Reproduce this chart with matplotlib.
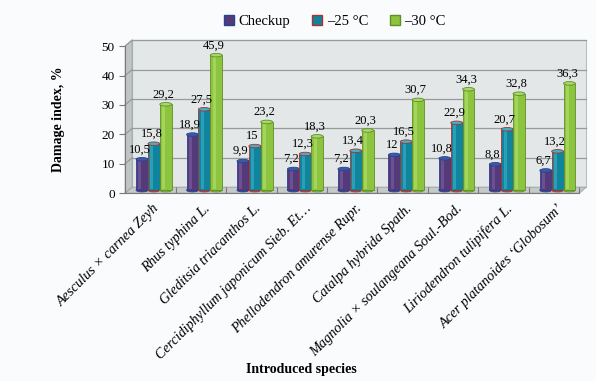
import numpy as np
import matplotlib.pyplot as plt
import matplotlib.transforms as mtransforms
from matplotlib.patches import Polygon, Ellipse, Rectangle

plt.rcParams['font.family'] = ['Liberation Serif', 'DejaVu Serif']

species = ["Aesculus × carnea Zeyh", "Rhus typhina L.", "Gleditsia triacanthos L.",
           "Cercidiphyllum japonicum Sieb. Et…", "Phellodendron amurense Rupr.",
           "Catalpa hybrida Spath.", "Magnolia × soulangeana Soul.-Bod.",
           "Liriodendron tulipifera L.", "Acer platanoides ‘Globosum’"]
checkup = [10.5, 18.9, 9.9, 7.2, 7.2, 12, 10.8, 8.8, 6.7]
minus25 = [15.8, 27.5, 15, 12.3, 13.4, 16.5, 22.9, 20.7, 13.2]
minus30 = [29.2, 45.9, 23.2, 18.3, 20.3, 30.7, 34.3, 32.8, 36.3]
series_names = ["Checkup", "–25 °C", "–30 °C"]

faces = ["#553a7a", "#10849c", "#8cc43f"]
edges = ["#27428f", "#b0302a", "#5f8f26"]
lights = ["#7b62a3", "#3fb0c6", "#b4e070"]
caps = ["#3a5aa8", "#3fb0c6", "#a8d86a"]

fig = plt.figure(figsize=(5.96, 3.81), dpi=100)
fig.patch.set_facecolor("#f9fbfd")
ax = fig.add_axes([0.21, 0.493, 0.762, 0.386])
ax.set_xlim(-0.5, len(species) - 0.5)
ax.set_ylim(0, 50)
ax.patch.set_alpha(0)

dx, dy = 7, 6
back = mtransforms.offset_copy(ax.transData, fig=fig, x=dx, y=dy, units='dots')
n = len(species)
x0, x1 = -0.5, n - 0.5

# back wall
ax.add_patch(Polygon([(x0, 0), (x1, 0), (x1, 50), (x0, 50)], closed=True,
                     transform=back, facecolor="#e3e7e7", edgecolor="#b9bfbf",
                     lw=0.8, zorder=0, clip_on=False))
# side wall
side = [ax.transData.transform((x0, 0)), back.transform((x0, 0)),
        back.transform((x0, 50)), ax.transData.transform((x0, 50))]
ax.add_patch(Polygon(side, closed=True, transform=None, facecolor="#bfc4c4",
                     edgecolor="#9aa0a0", lw=0.6, zorder=0, clip_on=False))
# floor
floor = [ax.transData.transform((x0, 0)), ax.transData.transform((x1, 0)),
         back.transform((x1, 0)), back.transform((x0, 0))]
ax.add_patch(Polygon(floor, closed=True, transform=None, facecolor="#c6caca",
                     edgecolor="#9aa0a0", lw=0.6, zorder=0, clip_on=False))
# gridlines on back wall and side
for v in range(10, 60, 10):
    ax.plot([x0, x1], [v, v], transform=back, color="#959a9a", lw=0.9,
            zorder=0.5, clip_on=False)
    p1 = ax.transData.transform((x0, v))
    p2 = back.transform((x0, v))
    ax.plot([p1[0], p2[0]], [p1[1], p2[1]], transform=None, color="#959a9a",
            lw=0.9, zorder=0.5, clip_on=False)

xs = np.arange(n)
w = 0.235
offs = [-0.235, 0.0, 0.235]
shift = mtransforms.offset_copy(ax.transData, fig=fig, x=dx / 2, y=dy / 2, units='dots')
for k, vals in enumerate([checkup, minus25, minus30]):
    for i, v in enumerate(vals):
        cx = xs[i] + offs[k]
        ax.add_patch(Rectangle((cx - w / 2, 0), w, v, transform=shift,
                               facecolor=faces[k], edgecolor=edges[k], lw=0.6,
                               zorder=2 + k, clip_on=False))
        ax.add_patch(Rectangle((cx - w / 2 + w * 0.2, 0.3), w * 0.25, v - 0.6,
                               transform=shift, facecolor=lights[k], lw=0,
                               alpha=0.6, zorder=2 + k, clip_on=False))
        ax.add_patch(Ellipse((cx, 0), w, 1.2, transform=shift,
                             facecolor=faces[k], edgecolor=edges[k], lw=0.6,
                             zorder=1.9 + k, clip_on=False))
        ax.add_patch(Ellipse((cx, v), w, 1.2, transform=shift,
                             facecolor=caps[k], edgecolor=edges[k], lw=0.6,
                             zorder=2.1 + k, clip_on=False))
        ax.text(cx - 0.05, v + 1.3, f"{v:g}".replace(".", ","), transform=shift,
                ha="center", va="bottom", fontsize=9, zorder=10)

for s in ["top", "right"]:
    ax.spines[s].set_visible(False)
ax.spines["left"].set_color("#7a7a7a")
ax.spines["bottom"].set_color("#7a7a7a")
ax.set_yticks(range(0, 60, 10))
ax.set_xticks(np.arange(-0.5, n, 1))
ax.set_xticklabels([])
ax.tick_params(axis="both", colors="#7a7a7a", labelcolor="black", labelsize=9.5, length=4)
ax.tick_params(axis="x", direction="in", length=4)

for i, name in enumerate(species):
    ax.text(xs[i] + 0.05, -3.0, name, rotation=45, ha="right", va="top",
            rotation_mode="anchor", style="italic", fontsize=10.3)

ax.set_ylabel("Damage index, %", fontsize=10, fontweight="bold", labelpad=26)
fig.text(0.505, 0.012, "Introduced species", ha="center", va="bottom",
         fontsize=10, fontweight="bold")

handles = [Rectangle((0, 0), 1, 1, facecolor=faces[k], edgecolor=edges[k])
           for k in range(3)]
fig.legend(handles, series_names, loc="upper center", bbox_to_anchor=(0.562, 0.995),
           ncol=3, frameon=False, fontsize=10.5, handlelength=0.7, handleheight=0.7,
           handletextpad=0.3, columnspacing=1.5)

fig.savefig("out.png", dpi=100, facecolor=fig.get_facecolor())
